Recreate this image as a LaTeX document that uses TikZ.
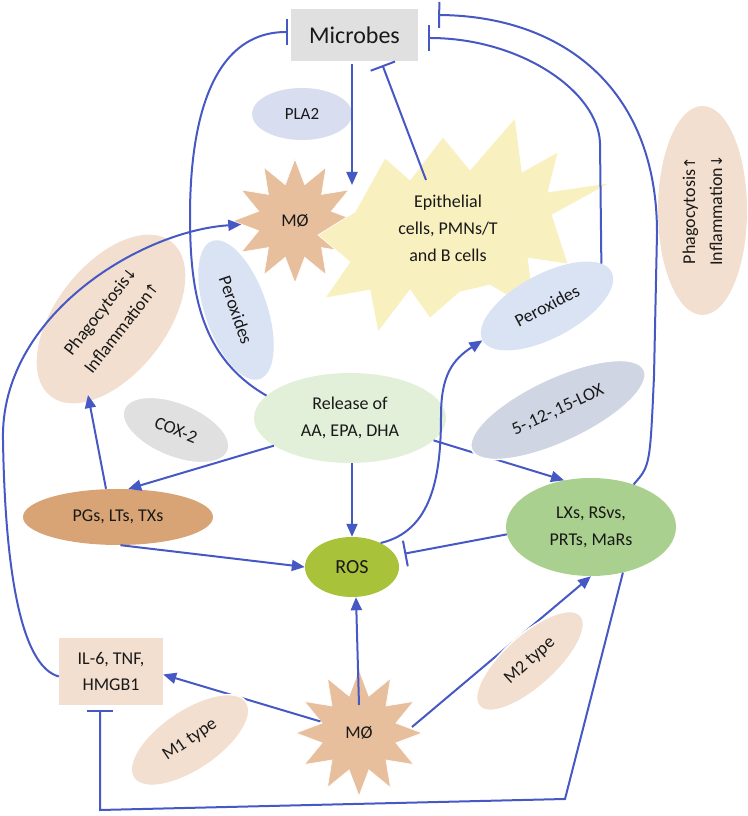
\documentclass[tikz,border=0pt]{standalone}
\usepackage{fontspec}
\setmainfont{Carlito}
\newfontfamily\symf{DejaVu Sans}
\usetikzlibrary{arrows.meta,shapes.geometric,calc}
\definecolor{lblue}{RGB}{70,88,196}
\definecolor{txt}{RGB}{25,25,25}
\definecolor{micc}{RGB}{224,224,224}
\definecolor{tanc}{RGB}{232,191,157}
\definecolor{yelc}{RGB}{249,240,192}
\definecolor{perc}{RGB}{218,227,243}
\definecolor{ltan}{RGB}{242,223,207}
\definecolor{relc}{RGB}{226,239,217}
\definecolor{coxc}{RGB}{224,224,224}
\definecolor{loxc}{RGB}{207,213,227}
\definecolor{pgsc}{RGB}{216,164,117}
\definecolor{rosc}{RGB}{168,194,58}
\definecolor{lxsc}{RGB}{169,208,142}
\definecolor{plac}{RGB}{217,221,240}
\pgfdeclarelayer{back}
\pgfdeclarelayer{mid}
\pgfsetlayers{back,mid,main}
\begin{document}
\begin{tikzpicture}[x=1pt,y=1pt,
  every node/.style={font=\fontsize{18}{27}\selectfont, text=txt, inner sep=0pt},
  arr/.style={draw=lblue, line width=2pt, -{Triangle[length=13pt,width=11pt]}},
  inh/.style={draw=lblue, line width=2pt, -{Bar[width=26pt]}},
  bell/.style={ellipse, inner sep=0pt},
  lbl/.style={ellipse, inner sep=0pt, draw=white, line width=1.5pt},
  mstar/.style={star, star points=12, star point ratio=1.65, inner sep=0pt, fill=tanc, draw=white, line width=0.6pt}
]
\useasboundingbox (0,0) rectangle (747,816);
\begin{pgfonlayer}{back}
\node[fill=micc, minimum width=127pt, minimum height=52pt, font=\fontsize{24}{29}\selectfont] (mic) at (354.5,781) {Microbes};
\node[bell, fill=plac, minimum width=100pt, minimum height=52pt, font=\fontsize{17}{20}\selectfont] (pla) at (302,702) {PLA2};
\node[mstar, minimum size=124pt] (mtop) at (295,595) {MØ};
\fill[yelc, draw=white, line width=0.6pt] (443,679) -- (470,646) -- (515,698) -- (522,644) -- (558,664) -- (548,624) -- (610,633) -- (552,601) -- (568,552) -- (528,558) -- (535,504) -- (490,531) -- (460,524) -- (430,498) -- (410,526) -- (378,484) -- (370,526) -- (325,518) -- (350,554) -- (318,581) -- (355,604) -- (385,658) -- (410,636) -- cycle;
\node[align=center] (epi) at (448,588) {Epithelial\\cells, PMNs/T\\and B cells};
\node[bell, fill=ltan, minimum width=196pt, minimum height=110pt, rotate=52, align=center] (phl) at (111,497) {Phagocytosis{\symf\fontsize{15}{27}\selectfont ↓}\\Inflammation{\symf\fontsize{15}{27}\selectfont ↑}};
\node[bell, fill=perc, minimum width=146pt, minimum height=62pt, rotate=-71] (perl) at (236,506) {Peroxides};
\node[bell, fill=perc, minimum width=146pt, minimum height=64pt, rotate=28] (perr) at (547,510) {Peroxides};
\node[bell, fill=ltan, minimum width=209pt, minimum height=89pt, rotate=90, align=center] (phr) at (702.5,605.5) {Phagocytosis{\symf\fontsize{15}{27}\selectfont ↑}\\Inflammation{\symf\fontsize{15}{27}\selectfont ↓}};
\node[bell, fill=relc, minimum width=192pt, minimum height=90pt, align=center] (rel) at (350,398) {Release of\\AA, EPA, DHA};
\node[bell, fill=pgsc, minimum width=190pt, minimum height=56pt] (pgs) at (118,299) {PGs, LTs, TXs};
\node[bell, fill=rosc, minimum width=94pt, minimum height=60pt, font=\fontsize{20}{24}\selectfont] (ros) at (352,249) {ROS};
\node[bell, fill=lxsc, minimum width=170pt, minimum height=98pt, align=center] (lxs) at (591,289) {LXs, RSvs,\\PRTs, MaRs};
\node[fill=ltan, minimum width=104pt, minimum height=67pt, align=center, font=\fontsize{18}{26}\selectfont] (il6) at (111,144.5) {IL-6, TNF,\\HMGB1};
\node[mstar, minimum size=126pt] (mbot) at (359,83) {MØ};
\end{pgfonlayer}
\coordinate (epiA) at (352,631);
\coordinate (epiB) at (426,636);
\coordinate (c3) at (190,600);
\coordinate (c4) at (3,376);
\coordinate (c5) at (441,400);
\coordinate (c6) at (600,673);
\coordinate (c7) at (654,440);
\coordinate (c8) at (657,583);
\coordinate (c1) at (565,17);
\coordinate (c2) at (100,6);
\begin{pgfonlayer}{mid}
\draw[arr] ([xshift=-2.5pt,yshift=-3pt]mic.south) -- (epiA);
\draw[inh] (epiB) -- ([xshift=28pt,yshift=-4pt]mic.south);
\draw[inh] (rel.165) to[out=150,in=-90] (c3) to[out=90,in=180] ([xshift=-3pt,yshift=3pt]mic.west);
\draw[arr] ([yshift=-5pt]il6.west) .. controls (20,150) and (5,250) .. (c4) .. controls (0,500) and (140,585) .. (mtop);
\draw[arr] ([xshift=-12pt]pgs.north) -- ($(phl.center)+(-23,-76)$);
\draw[arr] (rel.200) -- (pgs.70);
\draw[arr] ([xshift=2pt]rel.south) -- (ros.north);
\draw[arr] (rel.-15) -- (lxs.120);
\draw[arr] (pgs.-85) -- (ros.west);
\draw[inh, shorten >=9pt] (lxs.185) -- (ros.15);
\draw[arr] (ros.40) .. controls (432,285) and (441,340) .. (c5) .. controls (441,440) and (452,456) .. (perr.west);
\draw[inh] (perr.10) -- (c6) .. controls (598,725) and (520,778) .. ([xshift=10pt,yshift=-3pt]mic.east);
\draw[inh] (lxs.45) .. controls (650,350) .. (c7) -- (c8) .. controls (657,730) and (560,800) .. ([xshift=20pt,yshift=20pt]mic.east);
\draw[inh] (lxs.-55) -- (c1) -- (c2) -- ([xshift=-11pt,yshift=-5pt]il6.south);
\draw[arr] (mbot) -- ([yshift=-3pt]il6.east);
\draw[arr] ([yshift=28pt]mbot.center) -- ([xshift=4pt]ros.south);
\draw[arr] ([shift={(53,6)}]mbot.center) -- (lxs.south);
\end{pgfonlayer}
\node[lbl, fill=coxc, minimum width=112pt, minimum height=54pt, rotate=-22] (cox) at (176,386) {COX-2};
\node[lbl, fill=loxc, minimum width=190pt, minimum height=64pt, rotate=25] (lox) at (558,406) {5-,12-,15-LOX};
\node[lbl, fill=ltan, minimum width=136pt, minimum height=60pt, rotate=34] (m1) at (190,76) {M1 type};
\node[lbl, fill=ltan, minimum width=136pt, minimum height=52pt, rotate=42] (m2) at (530,155) {M2 type};
\end{tikzpicture}
\end{document}
